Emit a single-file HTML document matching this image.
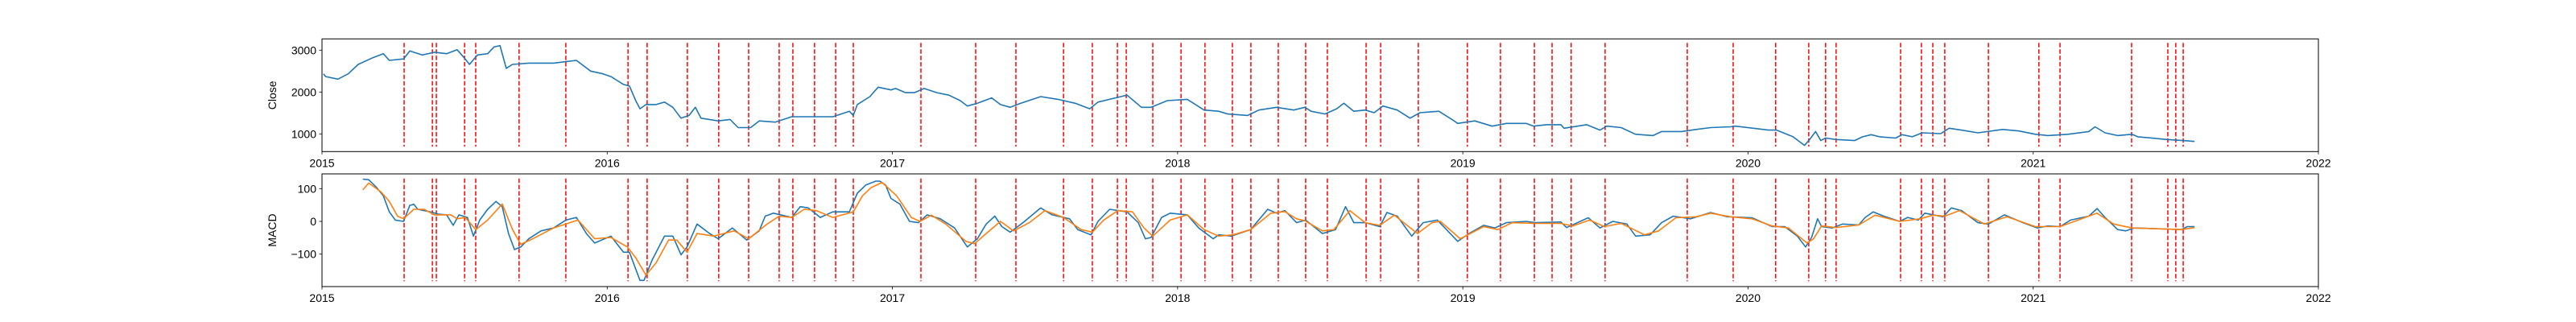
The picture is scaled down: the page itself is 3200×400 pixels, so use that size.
<!DOCTYPE html>
<html><head><meta charset="utf-8"><style>
html,body{margin:0;padding:0;background:#fff;}
svg{display:block;font-family:"Liberation Sans","DejaVu Sans",sans-serif;}
</style></head><body>
<svg id="chart" width="3200" height="400" viewBox="0 0 3200 400" xmlns="http://www.w3.org/2000/svg">
<rect x="0" y="0" width="3200" height="400" fill="#fff"/>
<g id="topPanel"></g>
<g id="botPanel"></g>
</svg>
<script>
// years since 2015-01-01
const xTickLabels = ["2015","2016","2017","2018","2019","2020","2021","2022"];
const closeTicks = [1000,2000,3000];
const macdTicks = [-100,0,100];
const eventT = [0.288,0.387,0.401,0.500,0.539,0.691,0.855,1.073,1.140,1.281,1.391,1.496,1.603,1.651,1.727,1.801,1.863,2.100,2.292,2.433,2.600,2.701,2.789,2.820,2.913,3.012,3.096,3.192,3.257,3.353,3.449,3.525,3.661,3.712,3.844,4.016,4.132,4.251,4.313,4.380,4.499,4.787,4.948,5.097,5.213,5.272,5.309,5.535,5.608,5.648,5.690,5.843,6.020,6.094,6.345,6.472,6.500,6.526];
const closeT = [0.005,0.013,0.056,0.092,0.127,0.178,0.215,0.236,0.286,0.308,0.351,0.395,0.437,0.474,0.502,0.517,0.545,0.581,0.603,0.624,0.646,0.668,0.725,0.812,0.855,0.892,0.942,0.985,1.013,1.035,1.057,1.078,1.100,1.115,1.136,1.171,1.201,1.230,1.259,1.287,1.309,1.329,1.389,1.431,1.459,1.503,1.533,1.589,1.647,1.733,1.791,1.849,1.863,1.877,1.921,1.950,1.995,2.011,2.046,2.077,2.111,2.156,2.198,2.238,2.263,2.298,2.348,2.379,2.413,2.450,2.520,2.580,2.641,2.692,2.721,2.782,2.823,2.873,2.907,2.964,3.034,3.093,3.144,3.175,3.246,3.285,3.347,3.407,3.446,3.468,3.517,3.558,3.583,3.618,3.658,3.689,3.720,3.770,3.815,3.850,3.916,3.962,3.982,4.042,4.103,4.153,4.222,4.248,4.293,4.344,4.355,4.434,4.481,4.505,4.555,4.606,4.667,4.697,4.767,4.818,4.869,4.939,4.956,5.072,5.100,5.158,5.198,5.216,5.237,5.255,5.272,5.309,5.374,5.402,5.432,5.461,5.518,5.540,5.576,5.611,5.676,5.705,5.748,5.806,5.893,5.950,6.008,6.051,6.122,6.195,6.217,6.252,6.296,6.346,6.367,6.469,6.525,6.566];
const closeV = [2435,2370,2307,2435,2660,2820,2915,2755,2790,2980,2885,2950,2915,3010,2790,2660,2885,2915,3075,3110,2565,2660,2690,2690,2725,2755,2500,2435,2370,2275,2180,2145,1795,1600,1700,1700,1760,1635,1375,1440,1635,1375,1310,1345,1150,1150,1310,1280,1410,1410,1410,1540,1440,1700,1890,2115,2050,2085,1985,1985,2085,1985,1925,1795,1665,1730,1860,1700,1635,1730,1890,1825,1730,1600,1760,1860,1925,1635,1635,1795,1825,1570,1540,1475,1440,1570,1635,1570,1635,1540,1475,1600,1730,1540,1570,1505,1665,1570,1375,1505,1540,1345,1250,1310,1185,1250,1250,1185,1220,1220,1135,1220,1090,1185,1150,990,960,1055,1055,1105,1150,1170,1185,1090,1090,930,725,865,1055,840,900,865,840,930,980,930,900,980,930,1025,1005,1135,1090,1025,1105,1070,990,960,990,1055,1170,1025,960,990,930,865,840,820];
const macdT = [0.143,0.164,0.192,0.215,0.236,0.257,0.286,0.308,0.322,0.336,0.380,0.409,0.437,0.460,0.480,0.510,0.531,0.553,0.581,0.610,0.632,0.654,0.675,0.697,0.725,0.768,0.812,0.855,0.892,0.927,0.956,1.013,1.057,1.078,1.115,1.129,1.157,1.201,1.230,1.259,1.280,1.315,1.359,1.389,1.439,1.489,1.533,1.554,1.583,1.647,1.677,1.705,1.747,1.791,1.849,1.877,1.907,1.942,1.956,1.976,1.995,2.026,2.060,2.091,2.122,2.168,2.218,2.263,2.298,2.329,2.359,2.384,2.413,2.458,2.520,2.560,2.621,2.650,2.696,2.721,2.762,2.823,2.862,2.887,2.907,2.944,2.974,3.034,3.074,3.125,3.144,3.189,3.256,3.316,3.347,3.376,3.417,3.449,3.508,3.554,3.589,3.618,3.658,3.709,3.734,3.770,3.821,3.861,3.911,3.982,4.022,4.073,4.112,4.153,4.222,4.254,4.344,4.364,4.440,4.481,4.526,4.575,4.606,4.657,4.697,4.738,4.798,4.869,4.928,5.014,5.085,5.129,5.173,5.202,5.223,5.244,5.258,5.295,5.332,5.388,5.411,5.439,5.476,5.532,5.560,5.597,5.620,5.684,5.713,5.749,5.806,5.843,5.899,5.964,6.015,6.051,6.094,6.131,6.195,6.224,6.252,6.296,6.325,6.354,6.426,6.520,6.540,6.566];
const macdV = [129,127,103,78,29,4,0,49,52,37,29,22,20,-12,20,12,-45,4,37,61,45,-37,-86,-78,-53,-29,-20,4,12,-37,-66,-45,-94,-94,-180,-180,-119,-45,-45,-102,-78,-8,-37,-53,-20,-57,-29,16,25,12,45,41,12,29,29,86,111,123,123,111,70,53,0,-4,20,8,-20,-78,-53,-8,16,-16,-33,-4,41,20,8,-25,-41,0,37,29,-4,-53,-49,12,25,20,-20,-53,-41,-45,-25,37,25,33,-4,4,-37,-25,45,-4,-4,-16,27,16,-45,-4,4,-61,-37,-12,-20,-4,0,-4,-2,-19,11,-20,0,-8,-45,-41,-4,16,8,27,14,11,-16,-16,-45,-78,-49,8,-16,-20,-8,-11,12,29,16,0,12,4,25,14,41,33,-4,-8,20,-4,-20,-14,-16,4,16,39,12,-25,-29,-20,-22,-25,-16,-16];
const signalT = [0.143,0.164,0.207,0.236,0.265,0.286,0.322,0.358,0.395,0.452,0.474,0.502,0.539,0.581,0.632,0.668,0.697,0.739,0.812,0.855,0.898,0.956,1.013,1.071,1.100,1.136,1.171,1.215,1.244,1.280,1.315,1.374,1.445,1.496,1.561,1.603,1.647,1.691,1.733,1.791,1.863,1.895,1.925,1.964,2.015,2.066,2.097,2.137,2.187,2.258,2.288,2.329,2.379,2.425,2.480,2.535,2.600,2.662,2.701,2.741,2.791,2.842,2.882,2.913,2.974,3.034,3.093,3.144,3.195,3.256,3.327,3.376,3.417,3.446,3.508,3.548,3.604,3.658,3.709,3.760,3.841,3.892,3.921,3.991,4.073,4.123,4.173,4.254,4.344,4.385,4.445,4.496,4.555,4.637,4.687,4.747,4.818,4.869,4.939,5.014,5.085,5.142,5.207,5.230,5.258,5.309,5.388,5.446,5.532,5.604,5.648,5.690,5.741,5.829,5.908,6.008,6.094,6.224,6.282,6.346,6.520,6.566];
const signalV = [96,117,90,61,16,8,37,37,20,20,8,12,-25,4,53,-25,-70,-53,-20,-8,4,-53,-49,-78,-111,-164,-127,-57,-57,-94,-37,-45,-29,-53,-8,16,12,37,33,12,29,78,103,119,78,12,0,19,-8,-61,-68,-37,0,-29,-4,33,12,-25,-33,4,33,29,-20,-45,4,20,-25,-45,-41,-25,25,30,8,2,-29,-25,33,-4,-12,19,-37,-4,0,-53,-16,-25,-4,-6,-6,-14,4,-16,-6,-41,-29,11,14,25,14,8,-14,-20,-66,-53,-14,-19,-11,19,0,8,19,16,33,-8,14,-16,-16,25,-8,-20,-25,-19];

const NS="http://www.w3.org/2000/svg";
const X0=400,X1=2880;
const xs=t=>X0+(X1-X0)*t/7;
const topP={y0:48.3,y1:188.3,lo:577,hi:3269,g:document.getElementById('topPanel')};
const botP={y0:216,y1:356,lo:-199,hi:145,g:document.getElementById('botPanel')};
const ysc=(p,v)=>p.y1-(v-p.lo)/(p.hi-p.lo)*(p.y1-p.y0);
function mk(tag,attrs,parent){const e=document.createElementNS(NS,tag);for(const k in attrs)e.setAttribute(k,attrs[k]);parent.appendChild(e);return e;}

function panel(p,ticks,label,lineY0,lineY1,nm){
  const g=p.g;
  eventT.forEach(t=>{
    const l=mk('line',{x1:xs(t),x2:xs(t),y1:lineY0,y2:lineY1,stroke:'#ff0000','stroke-width':1.5,'stroke-dasharray':'5.5,2.4'},g);
    
    
  });
  const fr=mk('rect',{x:X0,y:p.y0,width:X1-X0,height:p.y1-p.y0,fill:'none',stroke:'#000','stroke-width':1},g);
  
  
  xTickLabels.forEach((s,i)=>{
    const x=xs(i);
    const tk=mk('line',{x1:x,x2:x,y1:p.y1,y2:p.y1+3.5,stroke:'#000','stroke-width':0.8},g);
    
    
    const tx=mk('text',{x:x,y:p.y1+19,'font-size':14,'text-anchor':'middle',fill:'#000'},g);
    tx.textContent=s;
    
    
  });
  ticks.forEach(v=>{
    const y=ysc(p,v);
    const tk=mk('line',{x1:X0-3.5,x2:X0,y1:y,y2:y,stroke:'#000','stroke-width':0.8},g);
    
    
    const tx=mk('text',{x:X0-7,y:y+5,'font-size':14,'text-anchor':'end',fill:'#000'},g);
    tx.textContent=(v<0?'\u2212'+(-v):String(v));
    
    
  });
  const cy=(p.y0+p.y1)/2, cx=X0-57;
  const yl=mk('text',{x:cx,y:cy,'font-size':14,'text-anchor':'middle',transform:'rotate(-90 '+cx+' '+cy+')',fill:'#000'},g);
  yl.textContent=label;
  
  
}
function series(p,T,V,color,nm){
  const n=Math.min(T.length,V.length);
  let d='';
  for(let i=0;i<n;i++){d+=(i?'L':'M')+xs(T[i]).toFixed(1)+','+ysc(p,V[i]).toFixed(1);}
  const pa=mk('path',{d:d,fill:'none',stroke:color,'stroke-width':1.6,'stroke-linejoin':'round'},p.g);
  
  
}
panel(topP,closeTicks,'Close',53.3,182,'close');
series(topP,closeT,closeV,'#1f77b4','close-line');
panel(botP,macdTicks,'MACD',221.7,349.3,'macd');
series(botP,macdT,macdV,'#1f77b4','macd-line');
series(botP,signalT,signalV,'#ff7f0e','signal-line');
</script>
</body></html>
